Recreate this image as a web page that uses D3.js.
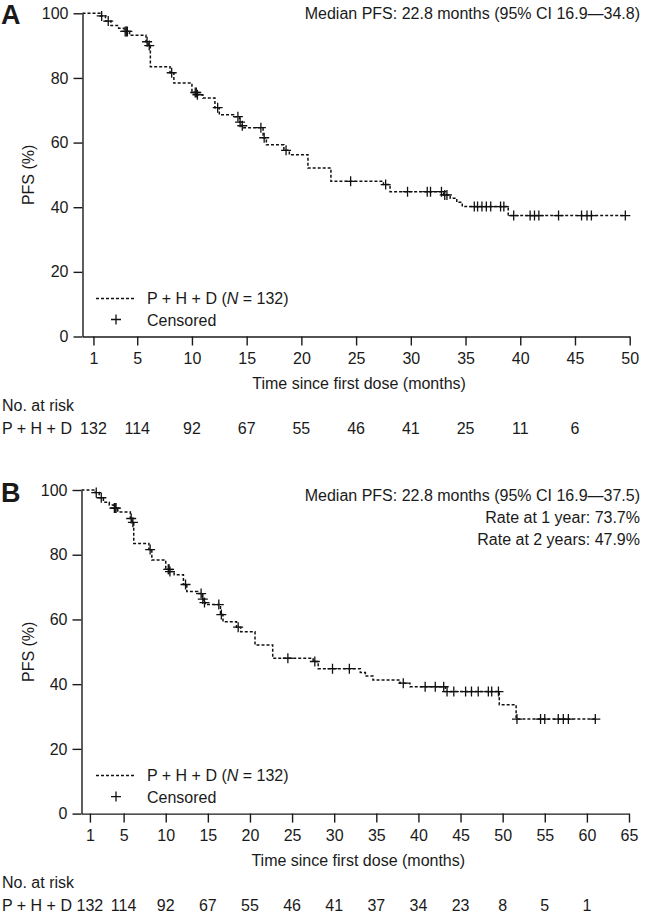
<!DOCTYPE html>
<html>
<head>
<meta charset="utf-8">
<script src="https://cdn.jsdelivr.net/npm/d3@7"></script>
<style>
  body { margin: 0; background: #fff; }
  svg text { font-family: "Liberation Sans", Arial, sans-serif; fill: #1a1a1a; }
</style>
</head>
<body>
<div id="grafico"></div>
<script>
// Panel A: datos (meses, % PFS)
const stepTimesA = [1.6, 2.1, 2.6, 3.3, 3.8, 4.3, 5.8, 6.0, 6.2, 8.0, 8.35, 10.0, 10.45, 11.0, 12.1, 12.5, 13.8, 14.35, 14.5, 14.7, 16.5, 16.8, 18.4, 18.9, 20.6, 22.7, 27.5, 28.1, 33.0, 33.6, 34.2, 34.7, 38.9];
const stepSurvA = [99.2, 97.6, 96.2, 95.4, 94.4, 93.2, 91.2, 90.0, 83.5, 81.6, 78.4, 75.5, 74.8, 73.8, 70.8, 68.6, 68.0, 66.3, 65.2, 64.6, 61.5, 59.3, 57.6, 56.2, 52.1, 48.0, 47.0, 44.8, 43.8, 42.8, 41.5, 40.2, 37.4];
const censorA = [1.75, 2.35, 3.9, 4.0, 4.1, 5.9, 6.1, 8.15, 10.3, 10.4, 10.5, 12.35, 14.2, 14.4, 14.6, 16.3, 16.6, 18.6, 24.5, 27.7, 29.7, 31.5, 31.8, 32.8, 33.1, 33.3, 35.8, 36.1, 36.5, 36.9, 37.3, 38.2, 38.5, 39.4, 40.9, 41.3, 41.7, 43.5, 45.6, 46.1, 46.5, 49.6];
const endA = 49.6;
const ticksA = [1, 5, 10, 15, 20, 25, 30, 35, 40, 45, 50];
const riskTimesA = [1, 5, 10, 15, 20, 25, 30, 35, 40, 45];
const riskA = [132, 114, 92, 67, 55, 46, 41, 25, 11, 6];

// Panel B
const stepTimesB = [1.6, 2.1, 2.6, 3.3, 3.8, 4.3, 5.8, 6.0, 6.2, 8.0, 8.35, 10.0, 10.45, 11.0, 12.1, 12.5, 13.8, 14.35, 14.5, 14.7, 16.5, 16.8, 18.4, 18.9, 20.6, 22.7, 27.5, 28.1, 33.1, 33.7, 34.6, 37.8, 39.0, 43.2, 49.6, 51.6];
const stepSurvB = [99.2, 97.6, 96.2, 95.4, 94.4, 93.2, 91.2, 90.0, 83.5, 81.6, 78.4, 75.5, 74.8, 73.8, 70.8, 68.6, 68.0, 66.3, 65.2, 64.6, 61.5, 59.3, 57.6, 56.2, 52.1, 48.0, 47.0, 44.8, 43.6, 42.5, 41.3, 40.3, 39.2, 37.7, 33.6, 29.2];
const censorB = [1.75, 2.35, 3.9, 4.0, 4.1, 5.9, 6.1, 8.15, 10.3, 10.4, 10.5, 12.35, 14.2, 14.4, 14.6, 16.3, 16.6, 18.6, 24.5, 27.7, 29.8, 31.8, 38.2, 40.8, 42.0, 43.0, 43.4, 44.2, 45.6, 46.3, 47.1, 48.3, 48.7, 49.5, 51.7, 54.5, 55.0, 56.6, 57.2, 57.8, 61.0];
const endB = 61.0;
const ticksB = [1, 5, 10, 15, 20, 25, 30, 35, 40, 45, 50, 55, 60, 65];
const riskTimesB = [1, 5, 10, 15, 20, 25, 30, 35, 40, 45, 50, 55, 60];
const riskB = [132, 114, 92, 67, 55, 46, 41, 37, 34, 23, 8, 5, 1];

const yTicks = [0, 20, 40, 60, 80, 100];
const fs = "16px";

const svg = d3.select("#grafico")
  .append("svg")
  .attr("width", 646)
  .attr("height", 916)
  .attr("viewBox", "0 0 646 916");

function dibujarPanel(p) {
  const x = d3.scaleLinear().domain([0, p.xMax]).range([p.left, p.right]);
  const y = d3.scaleLinear().domain([0, 100]).range([p.bottom, p.top]);
  const g = svg.append("g");

  // ejes
  const xAxis = d3.axisBottom(x).tickValues(p.ticks).tickSize(9).tickSizeOuter(0).tickPadding(7);
  const yAxis = d3.axisLeft(y).tickValues(yTicks).tickSize(9).tickSizeOuter(0).tickPadding(5);

  const gx = g.append("g")
    .attr("transform", "translate(0," + p.bottom + ")")
    .call(xAxis);
  const gy = g.append("g")
    .attr("transform", "translate(" + p.left + ",0)")
    .call(yAxis);
  [gx, gy].forEach(a => {
    a.selectAll("path, line").attr("stroke", "#1a1a1a").attr("stroke-width", 1.4);
    a.selectAll("text").style("font-size", fs).attr("fill", "#1a1a1a");
  });

  // titulo eje x
  g.append("text")
    .attr("x", (p.left + p.right) / 2 + 3)
    .attr("y", p.bottom + 52)
    .attr("text-anchor", "middle")
    .style("font-size", fs)
    .text("Time since first dose (months)");

  // titulo eje y
  g.append("text")
    .attr("transform", "translate(34," + (p.top + p.bottom) / 2 + ") rotate(-90)")
    .attr("text-anchor", "middle")
    .style("font-size", fs)
    .text("PFS (%)");

  // letra del panel
  g.append("text")
    .attr("x", 1)
    .attr("y", p.top + p.letterDy)
    .style("font-size", "27px")
    .style("font-weight", "bold")
    .text(p.letter);

  // curva escalonada
  const puntos = [[0, 100]].concat(p.times.map((t, i) => [t, p.surv[i]]));
  puntos.push([p.end, p.surv[p.surv.length - 1]]);
  const linea = d3.line()
    .x(d => x(d[0]))
    .y(d => y(d[1]))
    .curve(d3.curveStepAfter);
  g.append("path")
    .datum(puntos)
    .attr("d", linea)
    .attr("fill", "none")
    .attr("stroke", "#111")
    .attr("stroke-width", 1.5)
    .attr("stroke-dasharray", "3,2");

  // censurados
  const survAt = t => {
    const i = d3.bisectRight(p.times, t);
    return i === 0 ? 100 : p.surv[i - 1];
  };
  g.selectAll("path.censor")
    .data(p.censor)
    .enter()
    .append("path")
    .attr("class", "censor")
    .attr("transform", d => "translate(" + x(d) + "," + y(survAt(d)) + ")")
    .attr("d", "M-5,0H5M0,-5V5")
    .attr("stroke", "#111")
    .attr("stroke-width", 1.3)
    .attr("fill", "none");

  // anotaciones
  p.notas.forEach((n, i) => {
    g.append("text")
      .attr("x", 640)
      .attr("y", p.top + p.notaDy + i * 22)
      .attr("text-anchor", "end")
      .style("font-size", fs)
      .text(n);
  });

  // leyenda
  const ly = p.bottom - 38;
  g.append("line")
    .attr("x1", 96).attr("x2", 136)
    .attr("y1", ly).attr("y2", ly)
    .attr("stroke", "#111")
    .attr("stroke-width", 1.5)
    .attr("stroke-dasharray", "3,2");
  const t1 = g.append("text")
    .attr("x", 147)
    .attr("y", ly + 5.5)
    .style("font-size", fs);
  t1.append("tspan").text("P + H + D (");
  t1.append("tspan").style("font-style", "italic").text("N");
  t1.append("tspan").text(" = 132)");
  g.append("path")
    .attr("transform", "translate(116," + (ly + 21) + ")")
    .attr("d", "M-5,0H5M0,-5V5")
    .attr("stroke", "#111")
    .attr("stroke-width", 1.3);
  g.append("text")
    .attr("x", 147)
    .attr("y", ly + 27)
    .style("font-size", fs)
    .text("Censored");

  // tabla de pacientes en riesgo
  g.append("text")
    .attr("x", 2)
    .attr("y", p.bottom + p.riskDy)
    .style("font-size", fs)
    .text("No. at risk");
  g.append("text")
    .attr("x", 2)
    .attr("y", p.bottom + p.riskDy + 23)
    .style("font-size", fs)
    .text("P + H + D");
  g.selectAll("text.riesgo")
    .data(p.riskTimes)
    .enter()
    .append("text")
    .attr("class", "riesgo")
    .attr("x", d => x(d))
    .attr("y", p.bottom + p.riskDy + 23)
    .attr("text-anchor", "middle")
    .style("font-size", fs)
    .text((d, i) => p.risk[i]);
}

dibujarPanel({
  letter: "A", letterDy: 11, left: 82.5, right: 629.7, top: 13.3, bottom: 336.5, xMax: 50,
  ticks: ticksA, times: stepTimesA, surv: stepSurvA, censor: censorA, end: endA,
  riskTimes: riskTimesA, risk: riskA, riskDy: 74,
  notas: ["Median PFS: 22.8 months (95% CI 16.9\u201434.8)"], notaDy: 5.5
});

dibujarPanel({
  letter: "B", letterDy: 12, left: 81.5, right: 629, top: 490, bottom: 813.6, xMax: 65,
  ticks: ticksB, times: stepTimesB, surv: stepSurvB, censor: censorB, end: endB,
  riskTimes: riskTimesB, risk: riskB, riskDy: 74,
  notas: ["Median PFS: 22.8 months (95% CI 16.9\u201437.5)", "Rate at 1 year: 73.7%", "Rate at 2 years: 47.9%"], notaDy: 11
});
</script>
</body>
</html>
